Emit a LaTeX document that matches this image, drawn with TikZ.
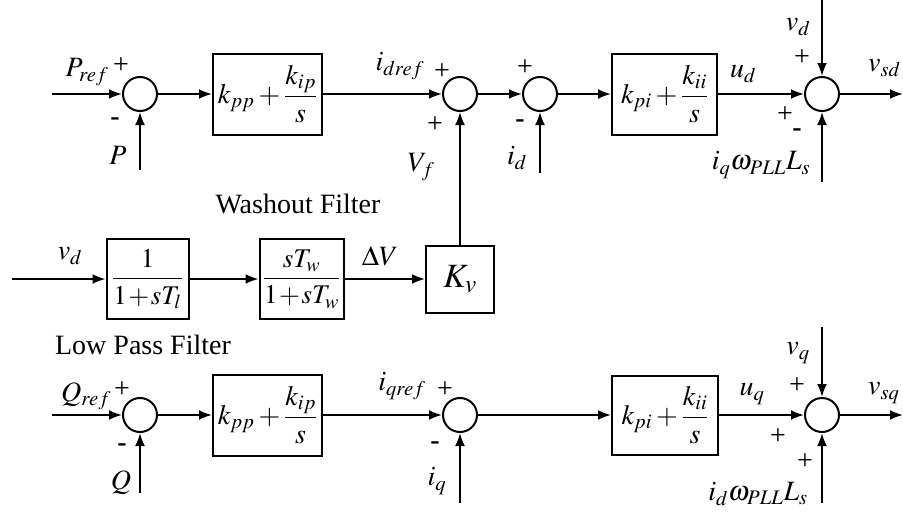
\documentclass[tikz,border=0pt]{standalone}
\usepackage{amsmath}
\usepackage{mathptmx}
\usepackage[no-math]{fontspec}
\setmainfont{Liberation Serif}
\usetikzlibrary{arrows.meta}
\tikzset{
  big/.style={font=\fontsize{28}{32}\selectfont},
  sumnode/.style={circle,draw,line width=2pt,minimum size=34pt,inner sep=0pt},
  blk/.style={draw,line width=2pt,inner sep=0pt,big},
  fblk/.style={draw,line width=2pt,inner sep=1pt,font=\fontsize{27}{31}\selectfont},
  lbl/.style={inner sep=0pt,big},
  sig/.style={line width=2pt,-{Latex[length=13pt,width=10pt]}},
}
\begin{document}
\begin{tikzpicture}[x=1pt,y=-1pt]
\useasboundingbox (0,0) rectangle (903,517);
% ---------- row 1 (d axis)
\coordinate (in1) at (52,94);
\node[sumnode] (s1) at (140,94) {};
\coordinate (pin) at (140,170);
\node[blk,minimum width=109pt,minimum height=81pt] (b1) at (267.5,94) {$k_{pp}+\dfrac{k_{ip}}{s}$};
\node[sumnode] (s2) at (460,94) {};
\node[sumnode] (s3) at (540,94) {};
\coordinate (idin) at (540,173);
\node[blk,minimum width=105pt,minimum height=81pt] (b2) at (664.5,94) {$k_{pi}+\dfrac{k_{ii}}{s}$};
\node[sumnode] (s4) at (822,94) {};
\coordinate (vdin) at (822,0);
\coordinate (iqin) at (822,182);
\coordinate (out1) at (903,94);
% ---------- row 2 (filters)
\coordinate (in2) at (12,279);
\node[fblk,minimum width=82pt,minimum height=80pt] (lp) at (147.5,279) {\medmuskip=1mu $\dfrac{1}{1+sT_l}$};
\node[fblk,minimum width=84pt,minimum height=80pt] (wo) at (301.5,279) {\medmuskip=1mu $\dfrac{sT_w}{1+sT_w}$};
\node[blk,minimum width=68pt,minimum height=67pt,font=\fontsize{34}{38}\selectfont] (kv) at (460,279) {$K_v$};
% ---------- row 3 (q axis)
\coordinate (in3) at (52,415);
\node[sumnode] (q1) at (140,415) {};
\coordinate (qin) at (140,493);
\node[blk,minimum width=109pt,minimum height=81pt] (b3) at (267.5,415) {$k_{pp}+\dfrac{k_{ip}}{s}$};
\node[sumnode] (q2) at (460,415) {};
\coordinate (iqin2) at (460,503);
\node[blk,minimum width=106pt,minimum height=79pt] (b4) at (665,415) {$k_{pi}+\dfrac{k_{ii}}{s}$};
\node[sumnode] (q4) at (822,415) {};
\coordinate (vqin) at (822,327);
\coordinate (idin2) at (822,503);
\coordinate (out3) at (903,415);
% ---------- connectors
\draw[sig] (in1) -- (s1);
\draw[sig] (pin) -- (s1);
\draw[sig] (s1) -- (b1);
\draw[sig] (b1) -- (s2);
\draw[sig] (kv) -- (s2);
\draw[sig] (s2) -- (s3);
\draw[sig] (idin) -- (s3);
\draw[sig] (s3) -- (b2);
\draw[sig] (b2) -- (s4);
\draw[sig] (vdin) -- (s4);
\draw[sig] (iqin) -- (s4);
\draw[sig] (s4) -- (out1);
\draw[sig] (in2) -- (lp);
\draw[sig] (lp) -- (wo);
\draw[sig] (wo) -- (kv);
\draw[sig] (in3) -- (q1);
\draw[sig] (qin) -- (q1);
\draw[sig] (q1) -- (b3);
\draw[sig] (b3) -- (q2);
\draw[sig] (iqin2) -- (q2);
\draw[sig] (q2) -- (b4);
\draw[sig] (b4) -- (q4);
\draw[sig] (vqin) -- (q4);
\draw[sig] (idin2) -- (q4);
\draw[sig] (q4) -- (out3);
% ---------- labels row 1
\node[lbl] (lPref) at (87,72) {$P_{ref}$};
\node[lbl] (lp1) at (121,66) {+};
\node[lbl] (lm1) at (115,122) {\textbf{-}};
\node[lbl] (lP) at (118,155) {$P$};
\node[lbl] (lidref) at (400,66) {$i_{dref}$};
\node[lbl] (lp2) at (442,72) {+};
\node[lbl] (lp3) at (435,125) {+};
\node[lbl] (lVf) at (421,167) {$V_f$};
\node[lbl] (lp4) at (525,68) {+};
\node[lbl] (lm2) at (520,124) {\textbf{-}};
\node[lbl] (lid) at (517,158) {$i_d$};
\node[lbl] (lud) at (743,74) {$u_d$};
\node[lbl] (lvd) at (798,27) {$v_d$};
\node[lbl] (lp5) at (802,58) {+};
\node[lbl] (lp6) at (785,115) {+};
\node[lbl] (lm3) at (797,133) {\textbf{-}};
\node[lbl] (liqw) at (761,165) {$i_q\omega_{PLL}L_s$};
\node[lbl,anchor=west] (lvsd) at (868,68) {$v_{sd}$};
% ---------- labels row 2
\node[lbl] (lwash) at (298,204) {Washout Filter};
\node[lbl] (lvd2) at (70,256) {$v_d$};
\node[lbl] (ldv) at (380,256) {$\Delta V$};
\node[lbl] (llow) at (143,345) {Low Pass Filter};
% ---------- labels row 3
\node[lbl] (lQref) at (86,396) {$Q_{ref}$};
\node[lbl] (lp7) at (122,390) {+};
\node[lbl] (lm4) at (122,448) {\textbf{-}};
\node[lbl] (lQ) at (121,483) {$Q$};
\node[lbl] (liqref) at (402,386) {$i_{qref}$};
\node[lbl] (lp8) at (445,390) {+};
\node[lbl] (lm5) at (435,446) {\textbf{-}};
\node[lbl] (liq) at (437,481) {$i_q$};
\node[lbl] (luq) at (752,394) {$u_q$};
\node[lbl] (lvq) at (798,353) {$v_q$};
\node[lbl] (lp9) at (797,386) {+};
\node[lbl] (lp10) at (778,437) {+};
\node[lbl] (lp11) at (805,462) {+};
\node[lbl] (lidw) at (758,494) {$i_d\omega_{PLL}L_s$};
\node[lbl,anchor=west] (lvsq) at (868,393) {$v_{sq}$};
\end{tikzpicture}
\end{document}
